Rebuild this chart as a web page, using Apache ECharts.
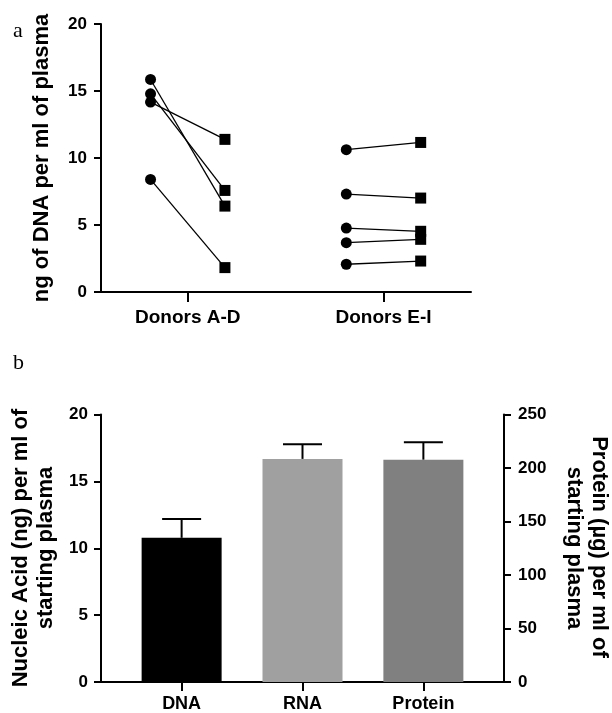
<!DOCTYPE html>
<html>
<head>
<meta charset="utf-8">
<script src="https://cdn.jsdelivr.net/npm/echarts@6/dist/echarts.min.js"></script>
<style>
html,body{margin:0;padding:0;background:#fff;}
#chart{width:612px;height:713px;}
</style>
</head>
<body>
<div id="chart"></div>
<script>
// ---------- Panel a data ----------
const groupsA = ['Donors A-D', 'Donors E-I'];
const beforeAD = [15.86, 14.79, 14.17, 8.40];
const afterAD  = [6.41, 7.58, 11.39, 1.82];
const beforeEI = [10.62, 7.31, 4.77, 3.68, 2.07];
const afterEI  = [11.16, 7.01, 4.53, 3.93, 2.31];
const yTicksA = [0, 5, 10, 15, 20];

// ---------- Panel b data ----------
const categoriesB = ['DNA', 'RNA', 'Protein'];
const nucleicMeans = [10.78, 16.68];   // DNA, RNA (ng)
const nucleicErr   = [1.41, 1.10];
const proteinMean  = [207.8];          // Protein (µg)
const proteinErr   = [16.2];
const barColors = ['#000000', '#a0a0a0', '#808080'];

const FONT = 'Liberation Sans';
const chart = echarts.init(document.getElementById('chart'), null, {renderer: 'canvas'});

const pairOffset = 0.19;
const pairsA = [];
[[beforeAD, afterAD], [beforeEI, afterEI]].forEach(([b, a], gi) => {
  b.forEach((v, i) => pairsA.push({g: gi + 1, before: v, after: a[i]}));
});

const lineSeries = pairsA.map(p => ({
  type: 'line',
  xAxisIndex: 0, yAxisIndex: 0,
  data: [
    {value: [p.g - pairOffset, p.before], symbol: 'circle', symbolSize: 11},
    {value: [p.g + pairOffset, p.after], symbol: 'rect', symbolSize: 11}
  ],
  lineStyle: {color: '#000', width: 1.3},
  itemStyle: {color: '#000'},
  showSymbol: true,
  animation: false,
  z: 3
}));

const axisLbl = {color: '#000', fontFamily: FONT, fontWeight: 'bold', fontSize: 17};
const axLine = {show: true, onZero: false, lineStyle: {color: '#000', width: 2}};

const errRender = capHalf => function (params, api) {
  const x = api.value(0), lo = api.value(1), hi = api.value(2);
  const p0 = api.coord([x, lo]);
  const p1 = api.coord([x, hi]);
  const st = {stroke: '#000', lineWidth: 2};
  return {
    type: 'group',
    children: [
      {type: 'line', shape: {x1: p0[0], y1: p0[1], x2: p1[0], y2: p1[1]}, style: st},
      {type: 'line', shape: {x1: p1[0] - capHalf, y1: p1[1], x2: p1[0] + capHalf, y2: p1[1]}, style: st}
    ]
  };
};

const option = {
  animation: false,
  backgroundColor: '#fff',
  grid: [
    {left: 101, top: 24, width: 370, height: 268},
    {left: 101, top: 414.5, width: 403, height: 269}
  ],
  xAxis: [
    {
      gridIndex: 0, type: 'value', min: 0.557, max: 2.447,
      axisLine: axLine,
      axisTick: {show: true, length: 10, lineStyle: {color: '#000', width: 2}, customValues: [1, 2]},
      axisLabel: Object.assign({}, axisLbl, {fontSize: 19, margin: 16, customValues: [1, 2],
        formatter: v => groupsA[Math.round(v) - 1]}),
      splitLine: {show: false}
    },
    {
      gridIndex: 1, type: 'value', min: -0.667, max: 2.667,
      axisLine: axLine,
      axisTick: {show: true, length: 9, lineStyle: {color: '#000', width: 2}, customValues: [0, 1, 2]},
      axisLabel: Object.assign({}, axisLbl, {fontSize: 18, margin: 13, customValues: [0, 1, 2],
        formatter: v => categoriesB[Math.round(v)]}),
      splitLine: {show: false}
    }
  ],
  yAxis: [
    {
      gridIndex: 0, type: 'value', min: 0, max: 20, interval: 5,
      axisLine: axLine,
      axisTick: {show: true, length: 7, lineStyle: {color: '#000', width: 2}},
      axisLabel: Object.assign({}, axisLbl, {margin: 14, formatter: v => yTicksA.includes(v) ? String(v) : ''}),
      splitLine: {show: false}
    },
    {
      gridIndex: 1, type: 'value', min: 0, max: 20, interval: 5,
      axisLine: axLine,
      axisTick: {show: true, length: 7, lineStyle: {color: '#000', width: 2}},
      axisLabel: Object.assign({}, axisLbl, {margin: 13}),
      splitLine: {show: false}
    },
    {
      gridIndex: 1, type: 'value', min: 0, max: 250, interval: 50, position: 'right',
      axisLine: axLine,
      axisTick: {show: true, length: 7, lineStyle: {color: '#000', width: 2}},
      axisLabel: Object.assign({}, axisLbl, {margin: 14}),
      splitLine: {show: false}
    }
  ],
  series: lineSeries.concat([
    {
      type: 'bar', xAxisIndex: 1, yAxisIndex: 1, barWidth: 80, barGap: '-100%',
      data: nucleicMeans.map((v, i) => ({value: [i, v], itemStyle: {color: barColors[i]}})),
      z: 2
    },
    {
      type: 'bar', xAxisIndex: 1, yAxisIndex: 2, barWidth: 80, barGap: '-100%',
      data: proteinMean.map((v, i) => ({value: [nucleicMeans.length + i, v], itemStyle: {color: barColors[nucleicMeans.length + i]}})),
      z: 2
    },
    {
      type: 'custom', xAxisIndex: 1, yAxisIndex: 1,
      renderItem: errRender(19.5),
      data: nucleicMeans.map((v, i) => [i, v, v + nucleicErr[i]]),
      z: 4
    },
    {
      type: 'custom', xAxisIndex: 1, yAxisIndex: 2,
      renderItem: errRender(19.5),
      data: proteinMean.map((v, i) => [nucleicMeans.length + i, v, v + proteinErr[i]]),
      z: 4
    }
  ]),
  graphic: [
    {type: 'text', left: 13, top: 20, style: {text: 'a', font: '22px "Liberation Serif"', fill: '#000'}},
    {type: 'text', left: 13, top: 352, style: {text: 'b', font: '22px "Liberation Serif"', fill: '#000'}},
    {type: 'text', x: 42, y: 158, rotation: Math.PI / 2,
      style: {text: 'ng of DNA per ml of plasma', font: 'bold 22px "Liberation Sans"', fill: '#000', align: 'center', verticalAlign: 'middle'}},
    {type: 'text', x: 21, y: 548, rotation: Math.PI / 2,
      style: {text: 'Nucleic Acid (ng) per ml of', font: 'bold 22px "Liberation Sans"', fill: '#000', align: 'center', verticalAlign: 'middle'}},
    {type: 'text', x: 46, y: 548, rotation: Math.PI / 2,
      style: {text: 'starting plasma', font: 'bold 22px "Liberation Sans"', fill: '#000', align: 'center', verticalAlign: 'middle'}},
    {type: 'text', x: 599, y: 547, rotation: -Math.PI / 2,
      style: {text: 'Protein (\u00b5g) per ml of', font: 'bold 22px "Liberation Sans"', fill: '#000', align: 'center', verticalAlign: 'middle'}},
    {type: 'text', x: 574, y: 548, rotation: -Math.PI / 2,
      style: {text: 'starting plasma', font: 'bold 22px "Liberation Sans"', fill: '#000', align: 'center', verticalAlign: 'middle'}}
  ]
};
chart.setOption(option);
</script>
</body>
</html>
